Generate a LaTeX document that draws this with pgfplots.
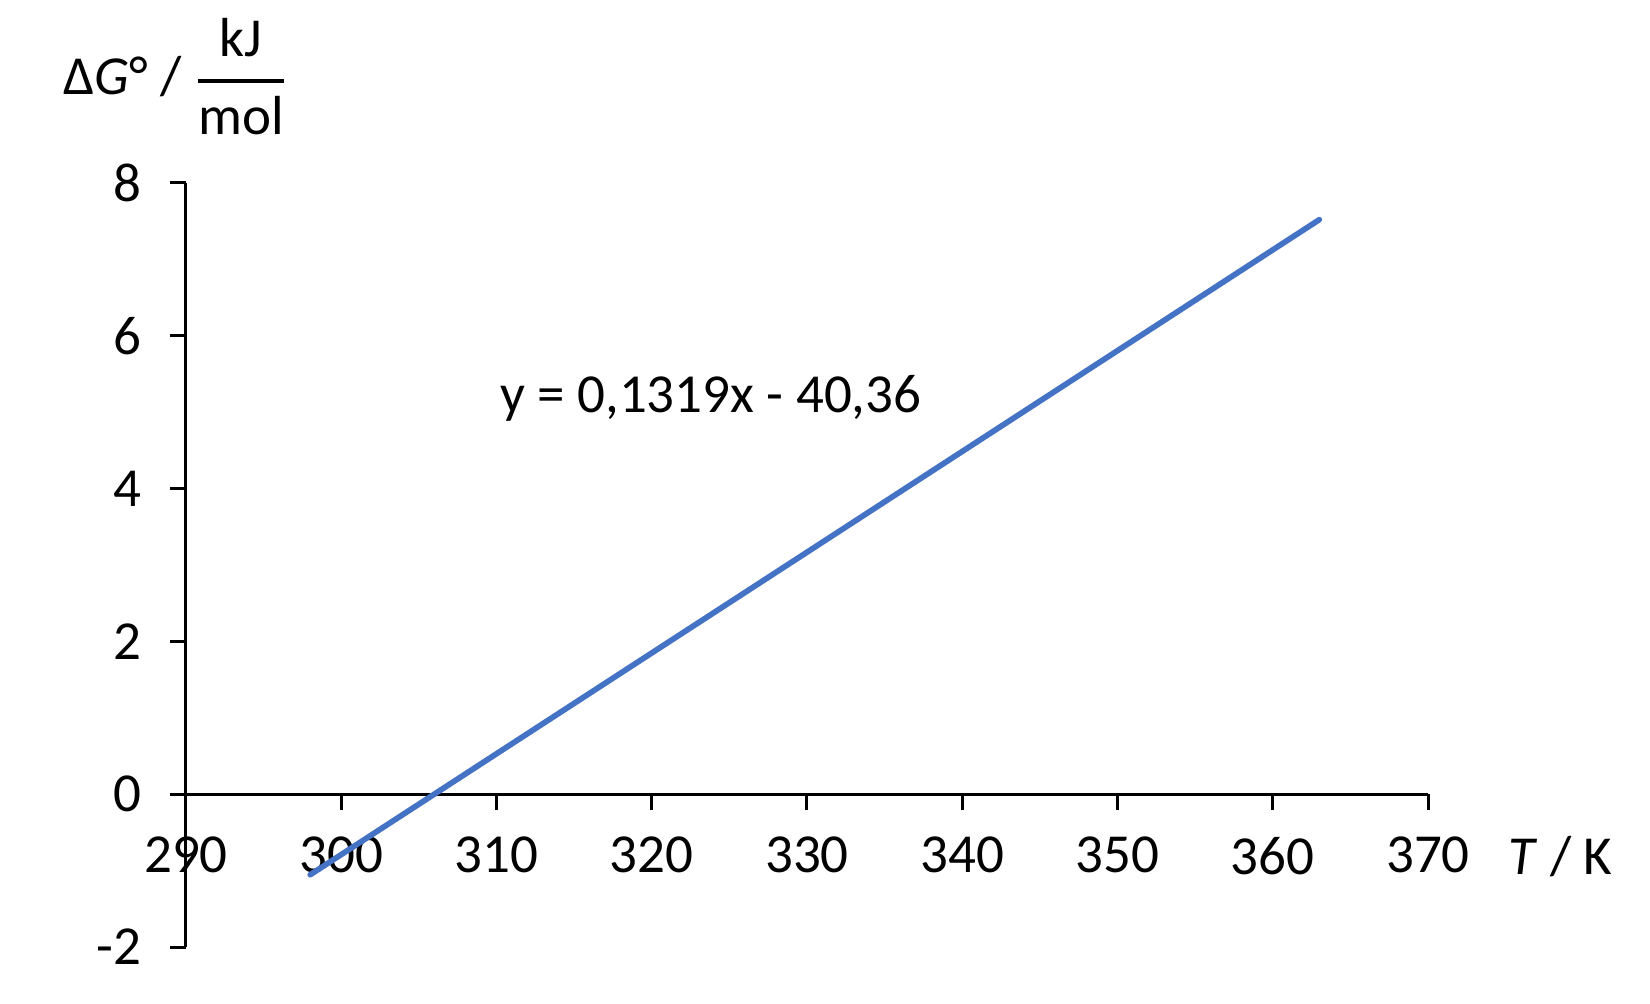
\documentclass[border=0pt]{standalone}
\usepackage{pgfplots}
\pgfplotsset{compat=1.18}
\usepackage{fontspec}
\setmainfont{Carlito}
\definecolor{xlblue}{RGB}{68,114,196}

\begin{document}
\begin{tikzpicture}
  % canvas of the reference (1 px = 0.3pt), origin at lower left of axis
  \useasboundingbox (-55.8pt,-16.8pt) rectangle (439.2pt,284.1pt);
  \begin{axis}[%
      scale only axis,
      width=372.6pt,
      height=229.2pt,
      xmin=290, xmax=370,
      ymin=-2, ymax=8,
      xtick={290,300,...,370},
      ytick={-2,0,...,8},
      axis x line=middle,
      axis y line=left,
      hide obscured x ticks=false,
      hide obscured y ticks=false,
      axis line style={-, line width=0.9pt},
      every inner x axis line/.append style={-},
      every outer y axis line/.append style={-},
      tick align=outside,
      major tick length=4.8pt,
      tick style={black, line width=0.9pt},
      ticklabel style={font=\fontsize{16.5}{20}\selectfont},
      /pgf/number format/assume math mode=true,
      xticklabel style={yshift=-4.5pt},
      yticklabel style={xshift=-5pt},
      clip=false]
    \addplot[color=xlblue, line width=1.7pt, line cap=round] coordinates {
      (298,-1.054) (313,0.925) (323,2.244) (333,3.563)
      (343,4.882) (353,6.201) (363,7.520)
    };
    \node[anchor=base west, inner sep=0pt, font=\fontsize{16.5}{20}\selectfont]
      at (axis cs:310.2,5.0) {y = 0,1319x - 40,36};
    \node[anchor=base west, inner sep=0pt, font=\fontsize{16.5}{20}\selectfont]
      at (axis cs:370,0) [xshift=24pt, yshift=-24pt] {\textit{T} / K};
    \node[anchor=base west, inner sep=0pt, font=\fontsize{16.5}{20}\selectfont]
      at (axis description cs:0,1) [xshift=-36.9pt, yshift=26.4pt]
      {Δ\textit{G}° / $\displaystyle{\hbox{kJ} \above 1.2pt \hbox{mol}}$};
  \end{axis}
\end{tikzpicture}
\end{document}
